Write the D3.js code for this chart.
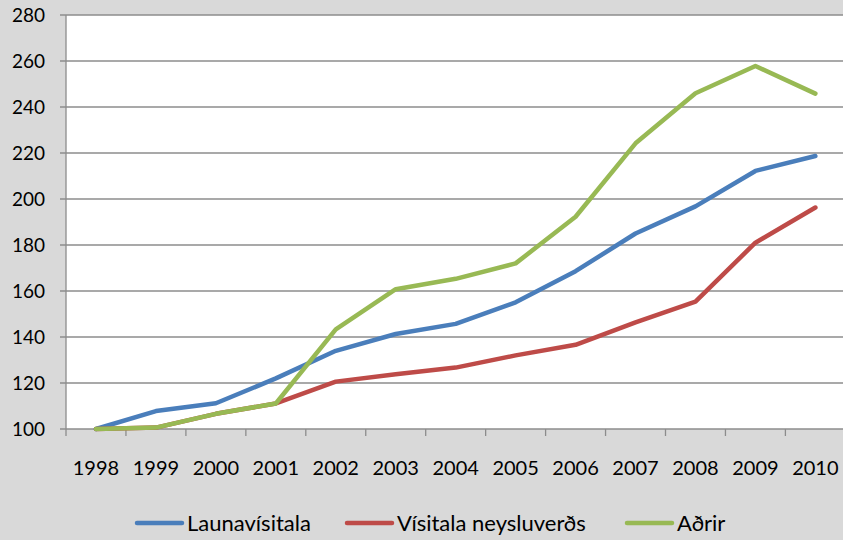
<!DOCTYPE html>
<html>
<head>
<meta charset="utf-8">
<script src="https://cdn.jsdelivr.net/npm/d3@7"></script>
<style>
  body { margin: 0; background: #d9d9d9; }
  svg { display: block; font-family: Lato, "Open Sans", sans-serif; }
</style>
</head>
<body>
<div id="chart"></div>
<script>
// data
var years = ["1998","1999","2000","2001","2002","2003","2004","2005","2006","2007","2008","2009","2010"];
var launavisitala = [100, 107.8, 111.2, 122, 134, 141.3, 145.7, 155.1, 168.6, 185, 196.8, 212.2, 218.7];
var visitalaNeyslu = [100, 100.6, 106.6, 111.1, 120.6, 123.8, 126.7, 132, 136.6, 146.4, 155.4, 181, 196.3];
var adrir = [100, 100.6, 106.6, 111.1, 143.3, 160.8, 165.3, 172, 192.3, 224.2, 246, 257.8, 245.8];
var yTicks = [100,120,140,160,180,200,220,240,260,280];

var series = [
  {name: "Launavísitala", values: launavisitala, color: "#4a7ebb"},
  {name: "Vísitala neysluverðs", values: visitalaNeyslu, color: "#be4b48"},
  {name: "Aðrir", values: adrir, color: "#98b954"}
];

var width = 843, height = 540;
var plotLeft = 66, plotTop = 15, plotBottom = 429;

var svg = d3.select("#chart").append("svg")
  .attr("width", width).attr("height", height);

svg.append("rect").attr("width", width).attr("height", height).attr("fill", "#d9d9d9");

var x = d3.scaleBand().domain(years).range([plotLeft, plotLeft + 13 * 59.95]);
var y = d3.scaleLinear().domain([100, 280]).range([plotBottom, plotTop]);

// plot area
svg.append("rect")
  .attr("x", plotLeft).attr("y", plotTop)
  .attr("width", width - plotLeft).attr("height", plotBottom - plotTop)
  .attr("fill", "#fff");

// gridlines
svg.append("g").selectAll("line")
  .data(yTicks)
  .enter().append("line")
  .attr("x1", plotLeft - 6).attr("x2", width)
  .attr("y1", function(d){ return y(d); })
  .attr("y2", function(d){ return y(d); })
  .attr("stroke", "#8c8c8c").attr("stroke-width", 1.3);

// y axis line
svg.append("line")
  .attr("x1", plotLeft).attr("x2", plotLeft)
  .attr("y1", plotTop).attr("y2", plotBottom)
  .attr("stroke", "#8c8c8c").attr("stroke-width", 1.3);

// x axis tick marks at band edges
svg.append("g").selectAll("line")
  .data(years)
  .enter().append("line")
  .attr("x1", function(d){ return x(d); })
  .attr("x2", function(d){ return x(d); })
  .attr("y1", plotBottom).attr("y2", plotBottom + 7)
  .attr("stroke", "#8c8c8c").attr("stroke-width", 1.3);

// y labels
svg.append("g").selectAll("text")
  .data(yTicks)
  .enter().append("text")
  .attr("x", 45)
  .attr("y", function(d){ return y(d); })
  .attr("dy", "0.35em")
  .attr("text-anchor", "end")
  .attr("font-size", 19)
  .attr("fill", "#000")
  .text(function(d){ return d; });

// x labels
svg.append("g").selectAll("text")
  .data(years)
  .enter().append("text")
  .attr("x", function(d){ return x(d) + x.bandwidth() / 2; })
  .attr("y", 468)
  .attr("dy", "0.35em")
  .attr("text-anchor", "middle")
  .attr("font-size", 20)
  .attr("fill", "#000")
  .text(function(d){ return d; });

var line = d3.line()
  .x(function(d, i){ return x(years[i]) + x.bandwidth() / 2; })
  .y(function(d){ return y(d); });

svg.append("g").selectAll("path")
  .data(series)
  .enter().append("path")
  .attr("d", function(d){ return line(d.values); })
  .attr("fill", "none")
  .attr("stroke", function(d){ return d.color; })
  .attr("stroke-width", 4.5)
  .attr("stroke-linejoin", "round")
  .attr("stroke-linecap", "round");

// legend
var legendX = [137, 347, 627];
var leg = svg.append("g").selectAll("g")
  .data(series)
  .enter().append("g")
  .attr("transform", function(d, i){ return "translate(" + legendX[i] + ",523)"; });

leg.append("line")
  .attr("x1", 0).attr("x2", 45)
  .attr("stroke", function(d){ return d.color; })
  .attr("stroke-width", 4.5)
  .attr("stroke-linecap", "round");

leg.append("text")
  .attr("x", 50)
  .attr("dy", "0.35em")
  .attr("font-size", 22)
  .attr("fill", "#000")
  .text(function(d){ return d.name; });
</script>
</body>
</html>
